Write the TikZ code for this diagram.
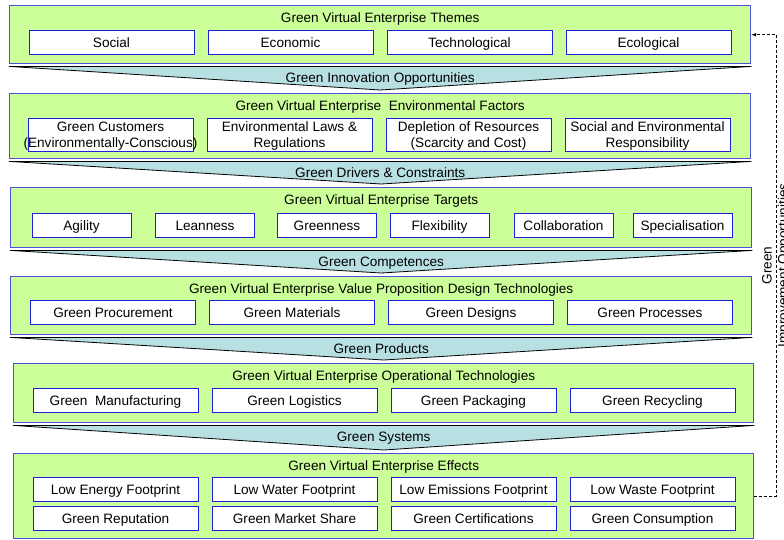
\documentclass[tikz,border=0pt]{standalone}
\usepackage{fontspec}
\setmainfont{Liberation Sans}
\usetikzlibrary{positioning,arrows}
\definecolor{layergreen}{RGB}{204,255,153}
\definecolor{layerblue}{RGB}{80,80,215}
\definecolor{itemblue}{RGB}{30,30,220}
\definecolor{flowcyan}{RGB}{184,224,226}

\begin{document}
\begin{tikzpicture}[
x=1pt,
y=-1pt,
font=\fontsize{13.6}{16}\selectfont,
layer/.style={
  draw=layerblue,
  fill=layergreen,
  line width=1.4pt,
  anchor=north west,
  inner sep=0pt
  },
headline/.style={
  text height=11.5pt,
  text depth=1.5pt,
  inner sep=0pt
  },
item/.style={
  draw=itemblue,
  fill=white,
  line width=0.9pt,
  minimum width=165pt,
  minimum height=24pt,
  text height=11.5pt,
  text depth=1.5pt,
  inner sep=0pt
  },
twoline/.style={
  draw=itemblue,
  fill=white,
  line width=0.9pt,
  minimum width=165pt,
  minimum height=33pt,
  align=center,
  text depth=0pt,
  inner sep=0pt
  },
funnel/.style={
  draw=black,
  fill=flowcyan,
  line width=0.8pt
  },
feedback/.style={
  densely dashed,
  line width=0.6pt
  },
>=latex
]

\useasboundingbox (0,0) rectangle (784,539);

\node[layer, minimum width=741pt, minimum height=58pt] (themes) at (9,5) {};
\node[layer, minimum width=741pt, minimum height=65pt] (factors) at (9,93) {};
\node[layer, minimum width=741pt, minimum height=60pt] (targets) at (10,187) {};
\node[layer, minimum width=741pt, minimum height=58pt] (proposition) at (10,276) {};
\node[layer, minimum width=740pt, minimum height=59pt] (operations) at (13,363) {};
\node[layer, minimum width=740pt, minimum height=85pt] (effects) at (13,453) {};

\node[headline] (themes-title) at ([yshift=-12.5pt]themes.north) {Green Virtual Enterprise Themes};
\node[headline] (factors-title) at ([yshift=-12.5pt]factors.north) {Green Virtual Enterprise\ \ Environmental Factors};
\node[headline] (targets-title) at ([yshift=-12.5pt]targets.north) {Green Virtual Enterprise Targets};
\node[headline] (proposition-title) at ([yshift=-12.5pt]proposition.north) {Green Virtual Enterprise Value Proposition Design Technologies};
\node[headline] (operations-title) at ([yshift=-12.5pt]operations.north) {Green Virtual Enterprise Operational Technologies};
\node[headline] (effects-title) at ([yshift=-12.5pt]effects.north) {Green Virtual Enterprise Effects};

\foreach \t [count=\i] in {Social,Economic,Technological,Ecological}
  \node[item] (theme-\i) at ({111.5+179*(\i-1)},42) {\t};
\foreach \t [count=\i] in {{Green Customers\\\makebox[150pt]{(Environmentally-Conscious)}},
    {Environmental Laws \&\\Regulations},{Depletion of Resources\\(Scarcity and Cost)},
    {Social and Environmental\\Responsibility}}
  \node[twoline] (factor-\i) at ({110.5+179*(\i-1)},134.5) {\t};
\foreach \t/\x [count=\i] in {Agility/81.5,Leanness/205,Greenness/327,Flexibility/439.5,
    Collaboration/563.5,Specialisation/682.5}
  \node[item, minimum width=99pt] (target-\i) at (\x,225.5) {\t};
\foreach \t [count=\i] in {Green Procurement,Green Materials,Green Designs,Green Processes}
  \node[item] (design-\i) at ({113+179*(\i-1)},312.5) {\t};
\foreach \t [count=\i] in {Green\ \ Manufacturing,Green Logistics,Green Packaging,Green Recycling}
  \node[item] (operation-\i) at ({115.5+179*(\i-1)},400) {\t};
\foreach \t [count=\i] in {Low Energy Footprint,Low Water Footprint,Low Emissions Footprint,
    Low Waste Footprint}
  \node[item] (footprint-\i) at ({115.5+179*(\i-1)},489) {\t};
\foreach \t [count=\i] in {Green Reputation,Green Market Share,Green Certifications,
    Green Consumption}
  \node[item] (market-\i) at ({115.5+179*(\i-1)},518) {\t};

\foreach \a/\b/\t [count=\i] in {themes/factors/Green Innovation Opportunities,
    factors/targets/{Green Drivers \& Constraints},targets/proposition/Green Competences,
    proposition/operations/Green Products,operations/effects/Green Systems}
{
  \draw[funnel] ([yshift=-2pt]\a.south west) -- ([yshift=-2pt]\a.south east)
    -- ([yshift=3pt]\b.north) -- cycle;
  \node[headline] (flow-\i) at ([yshift=-13.5pt]\a.south) {\t};
}

\draw[feedback, ->] (effects.east) -- ++(22,0) |-
  node[pos=0.25, rotate=90, align=center] (loop-label) {Green\\Improvement Opportunities}
  (themes.east);
\end{tikzpicture}
\end{document}
